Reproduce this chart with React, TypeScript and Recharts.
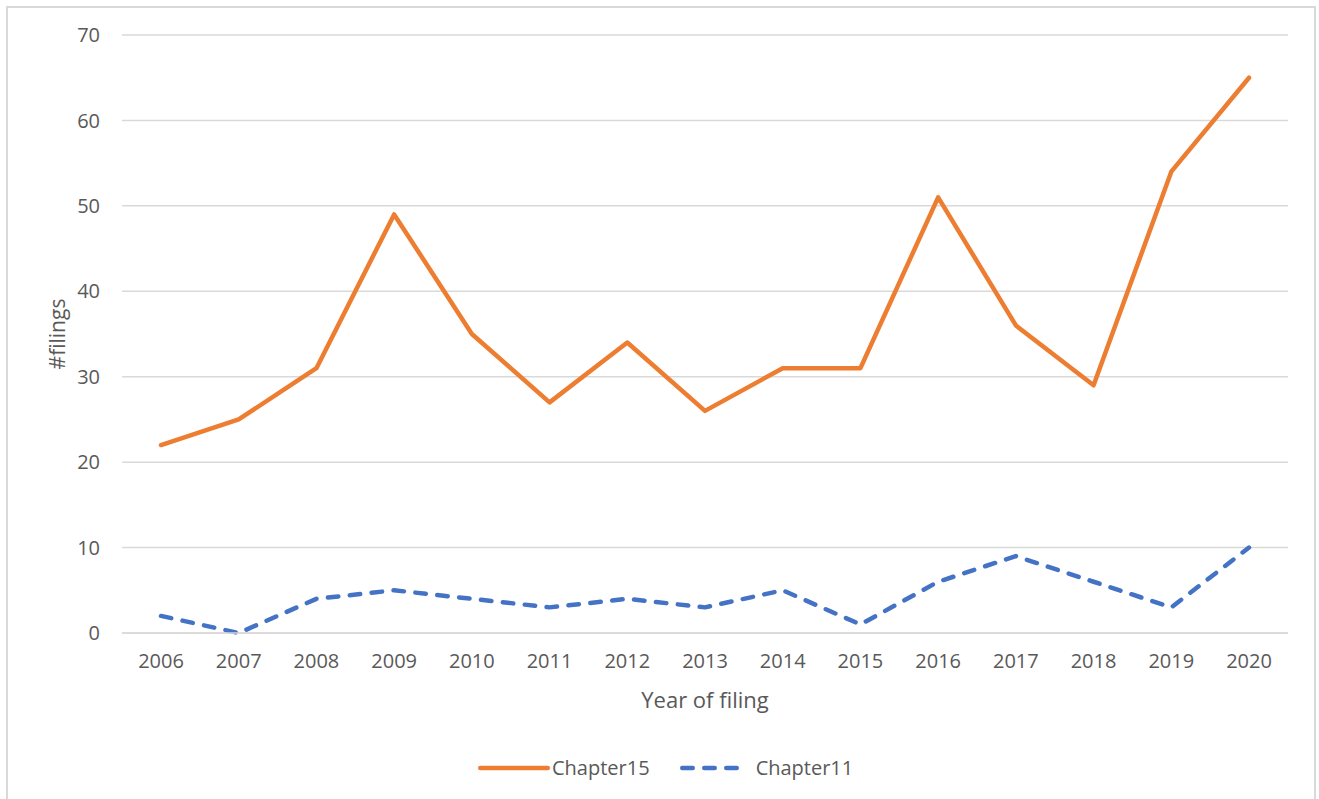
import React from "react";
import { LineChart, Line, XAxis, YAxis, CartesianGrid, Label } from "recharts";

const years = ["2006", "2007", "2008", "2009", "2010", "2011", "2012", "2013", "2014", "2015", "2016", "2017", "2018", "2019", "2020"];
const chapter15 = [22, 25, 31, 49, 35, 27, 34, 26, 31, 31, 51, 36, 29, 54, 65];
const chapter11 = [2, 0, 4, 5, 4, 3, 4, 3, 5, 1, 6, 9, 6, 3, 10];
const yTicks = [0, 10, 20, 30, 40, 50, 60, 70];

const ORANGE = "#ED7D31";
const BLUE = "#4472C4";
const TEXT = "#595959";
const GRID = "#d9d9d9";
const FONT = "'Open Sans', sans-serif";
const DASH = "10.5 11.5";

const data = years.map((year, i) => ({ year, Chapter15: chapter15[i], Chapter11: chapter11[i] }));

const legendItems = [
  { name: "Chapter15", color: ORANGE, dash: undefined, len: 68, gap: 2 },
  { name: "Chapter11", color: BLUE, dash: DASH, len: 60, gap: 12 },
];

export default function App() {
  return (
    <div style={{ position: "fixed", left: 0, top: 0, width: 1319, height: 799, background: "#fff", fontFamily: FONT, overflow: "hidden" }}>
      <div style={{ position: "absolute", left: 6, top: 6, width: 1306, height: 820, border: `2px solid ${GRID}` }} />
      <LineChart width={1319} height={799} data={data} margin={{ top: 35, right: 31, left: 0, bottom: 106 }}>
        <CartesianGrid vertical={false} stroke={GRID} strokeWidth={1.5} />
        <XAxis
          dataKey="year"
          height={60}
          padding={{ left: 39, right: 39 }}
          axisLine={{ stroke: GRID, strokeWidth: 1.5 }}
          tickLine={false}
          tickSize={0}
          tickMargin={21}
          tick={{ fontSize: 20, fill: TEXT, fontFamily: FONT }}
        >
          <Label
            content={({ viewBox }: any) => (
              <text x={viewBox.x + viewBox.width / 2} y={708} textAnchor="middle" fontSize={22} fill={TEXT} fontFamily={FONT}>
                Year of filing
              </text>
            )}
          />
        </XAxis>
        <YAxis
          width={122}
          domain={[0, 70]}
          ticks={yTicks}
          axisLine={false}
          tickLine={false}
          tickSize={0}
          tickMargin={22}
          tick={{ fontSize: 20, fill: TEXT, fontFamily: FONT }}
        >
          <Label
            content={({ viewBox }: any) => {
              const cy = viewBox.y + viewBox.height / 2;
              return (
                <text x={65} y={cy} textAnchor="middle" fontSize={21} fill={TEXT} fontFamily={FONT} transform={`rotate(-90, 65, ${cy})`}>
                  #filings
                </text>
              );
            }}
          />
        </YAxis>
        <Line dataKey="Chapter15" stroke={ORANGE} strokeWidth={4.5} strokeLinecap="round" strokeLinejoin="round" dot={false} isAnimationActive={false} />
        <Line dataKey="Chapter11" stroke={BLUE} strokeWidth={4.5} strokeDasharray={DASH} strokeLinecap="round" strokeLinejoin="round" dot={false} isAnimationActive={false} />
      </LineChart>
      <div style={{ position: "absolute", top: 754, left: 478, display: "flex", gap: 30, fontSize: 20, color: TEXT }}>
        {legendItems.map((it) => (
          <div key={it.name} style={{ display: "flex", alignItems: "center", gap: it.gap }}>
            <svg width={it.len + 4} height={10}>
              <line x1={2.25} y1={5} x2={it.len + 1.75} y2={5} stroke={it.color} strokeWidth={4.5} strokeLinecap="round" strokeDasharray={it.dash} />
            </svg>
            <span>{it.name}</span>
          </div>
        ))}
      </div>
    </div>
  );
}
